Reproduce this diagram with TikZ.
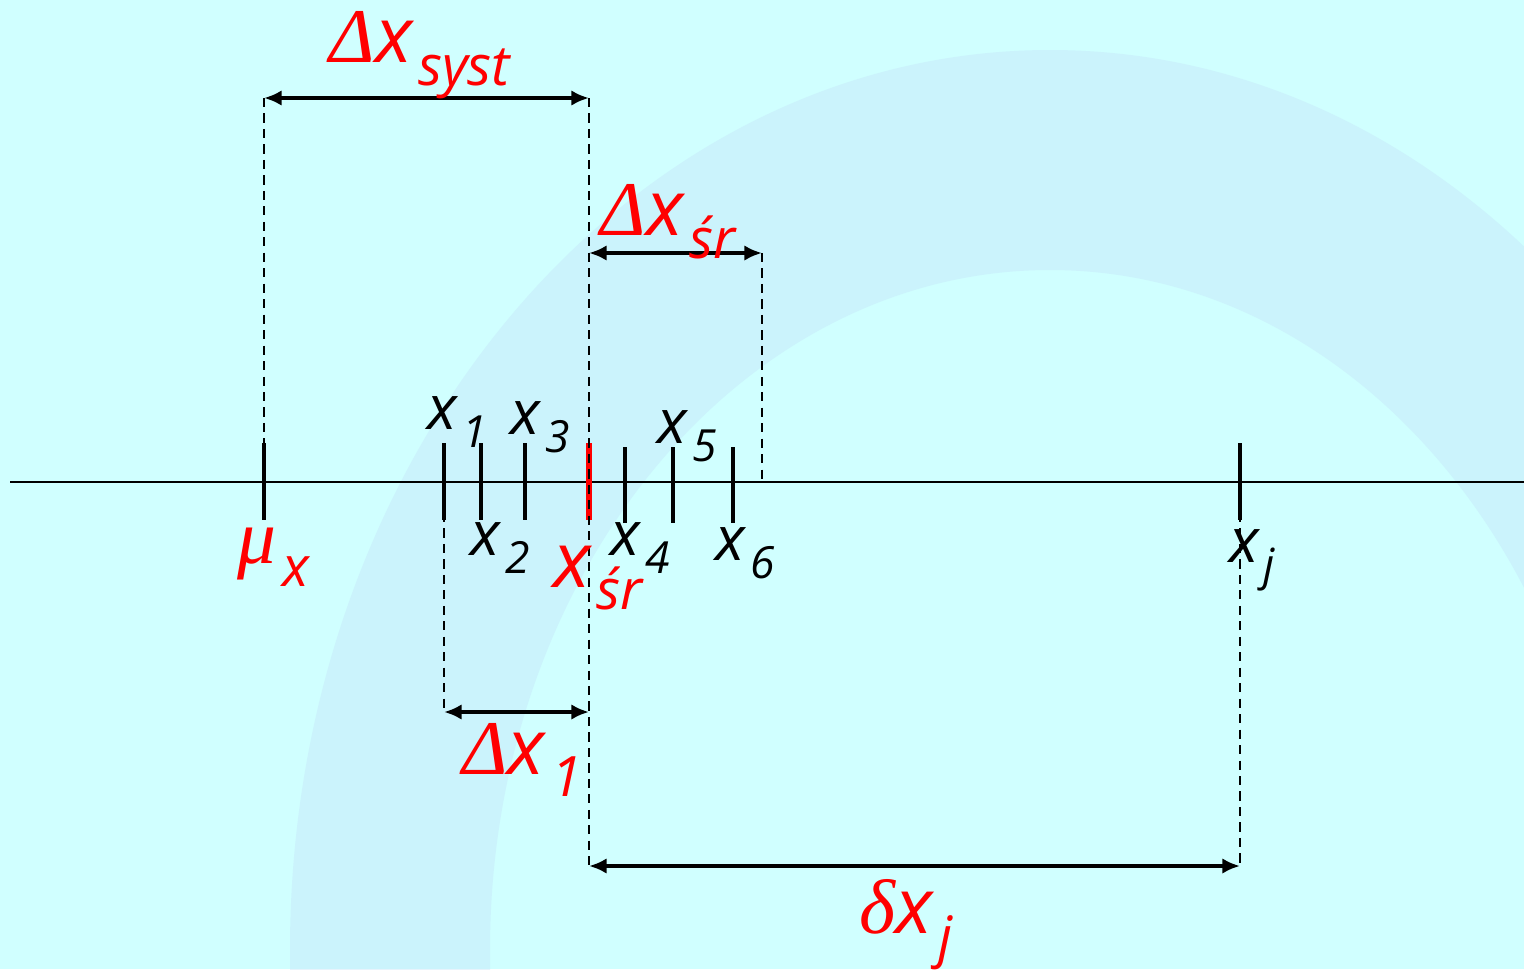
\documentclass[tikz,border=0pt]{standalone}
\usepackage{fontspec}
\setmainfont{Open Sans}
\newfontfamily\grk{Liberation Serif}
\usepackage{tikz}
\usetikzlibrary{positioning,arrows.meta}
\definecolor{bgcyan}{RGB}{208,255,255}
\definecolor{ringblue}{RGB}{196,226,248}
\definecolor{labred}{RGB}{255,0,0}
\newcommand{\lo}[1]{\kern0.08em\raisebox{-0.55ex}{\scalebox{0.72}{#1}}}

\begin{document}
\begin{tikzpicture}[
  x=0.01cm,y=-0.01cm,
  axis/.style={line width=0.65pt},
  tick/.style={line width=1.15pt},
  mtick/.style={line width=1.6pt,draw=labred},
  guide/.style={dash pattern=on 2.6pt off 1.8pt,line width=0.65pt},
  dim/.style={{Latex[length=5pt,width=4.4pt]}-{Latex[length=5pt,width=4.4pt]},line width=1.25pt},
  blab/.style={font=\fontsize{17.5}{20}\selectfont\itshape,inner sep=0pt},
  rlab/.style={font=\fontsize{22}{26}\selectfont\itshape,text=labred,inner sep=0pt}
]
% background and faint watermark
\fill[bgcyan] (0,0) rectangle (1524,969);
\begin{scope}
  \clip (0,0) rectangle (1524,969);
  \fill[ringblue,even odd rule,opacity=0.4]
    (1050,950) ellipse [x radius=760,y radius=900]
    (1050,950) ellipse [x radius=560,y radius=680];
\end{scope}
\useasboundingbox (0,0) rectangle (1524,969);

% points on the axis
\coordinate (ax0) at (10,482);
\coordinate (ax1) at (1524,482);
\coordinate (mu) at (264,482);
\coordinate (x1) at (444,482);
\coordinate (x2) at (481,482);
\coordinate (x3) at (525,482);
\coordinate (sr) at (589,482);
\coordinate (x4) at (625,482);
\coordinate (x5) at (673,482);
\coordinate (x6) at (733,482);
\coordinate (r6) at (762,482);
\coordinate (xj) at (1240,482);

% ends of the dimension arrows
\coordinate (sy1) at (264,98);
\coordinate (sy2) at (589,98);
\coordinate (sr1) at (589,253);
\coordinate (sr2) at (762,253);
\coordinate (da1) at (444,712);
\coordinate (da2) at (589,712);
\coordinate (dj1) at (589,866);
\coordinate (dj2) at (1240,866);

\draw[axis] (ax0) -- (ax1);
\foreach \p in {mu,x1,x2,x3,xj}
  \draw[tick] (\p) ++(0,-39) -- ++(0,77);
\foreach \p in {x4,x5,x6}
  \draw[tick] (\p) ++(0,-35) -- ++(0,76);
\draw[mtick] (sr) ++(0,-39) -- ++(0,77);

% guides
\draw[guide] (sy1) -- (mu);
\draw[guide] (sy2) -- (dj1);
\draw[guide] (sr2) -- (r6);
\draw[guide] (x1) -- (da1);
\draw[guide] (xj) -- (dj2);

\draw[dim] (sy1) -- (sy2);
\draw[dim] (sr1) -- (sr2);
\draw[dim] (da1) -- (da2);
\draw[dim] (dj1) -- (dj2);

% labels
\node[rlab] (lsyst) at (420,55) {{\grk Δ}x\lo{syst}};
\node[rlab] (lsrd) at (668,222) {{\grk Δ}x\lo{śr}};
\node[rlab] (lda) at (522,760) {{\grk Δ}x\lo{1}};
\node[rlab] (ldj) at (906,925) {{\grk δ}x\lo{j}};
\node[rlab] (lmu) at (273,557) {{\grk μ}\lo{x}};
\node[rlab] (lsr) at (598,578) {x\lo{śr}};
\node[blab] (lx1) at (457,422) {x\lo{1}};
\node[blab] (lx2) at (500,548) {x\lo{2}};
\node[blab] (lx3) at (540,427) {x\lo{3}};
\node[blab] (lx4) at (640,548) {x\lo{4}};
\node[blab] (lx5) at (687,436) {x\lo{5}};
\node[blab] (lx6) at (745,553) {x\lo{6}};
\node[blab] (lxj) at (1252,560) {x\lo{j}};
\end{tikzpicture}
\end{document}
